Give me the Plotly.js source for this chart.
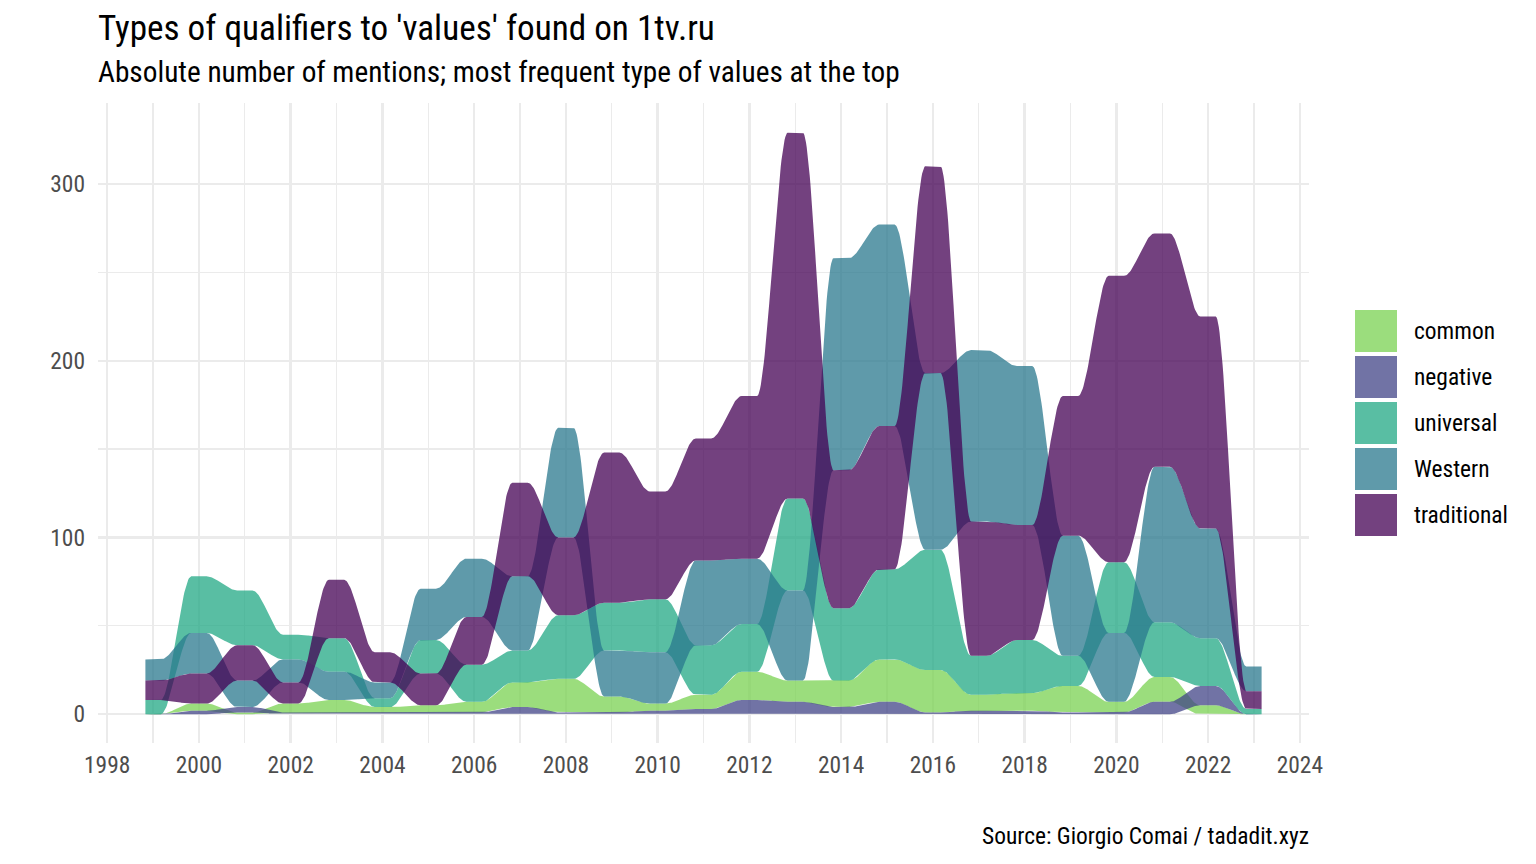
<!DOCTYPE html>
<html>
<head>
<meta charset="utf-8">
<script src="https://cdn.plot.ly/plotly-3.0.1.min.js"></script>
<style>
  html, body { margin: 0; padding: 0; background: #fff; }
  #chart { width: 1536px; height: 864px; }
</style>
</head>
<body>
<div id="chart"></div>
<script>
// years on the x axis
const years = [1999, 2000, 2001, 2002, 2003, 2004, 2005, 2006, 2007, 2008, 2009, 2010,
  2011, 2012, 2013, 2014, 2015, 2016, 2017, 2018, 2019, 2020, 2021, 2022, 2023];
// number of mentions of each type per year
const common = [0, 4, 1, 5, 7, 3, 4, 6, 14, 19, 9, 4, 8, 16, 12, 15, 24, 24, 9, 10, 15, 6, 14, 5, 0];
const negative = [0, 2, 3, 1, 1, 1, 1, 1, 4, 1, 1, 2, 3, 8, 7, 4, 7, 1, 2, 2, 1, 1, 7, 11, 0];
const universal = [8, 32, 31, 14, 19, 5, 19, 21, 18, 36, 27, 30, 28, 27, 52, 41, 51, 68, 22, 30, 17, 40, 31, 27, 3];
const western = [12, 23, 15, 13, 16, 9, 29, 33, 42, 62, 26, 29, 48, 37, 51, 120, 114, 100, 97, 90, 68, 39, 88, 62, 14];
const traditional = [11, 17, 20, 12, 33, 17, 18, 27, 53, 44, 85, 61, 69, 92, 207, 78, 81, 117, 76, 65, 79, 162, 132, 120, 10];
// legend labels, in drawing order
const typeNames = ['common', 'negative', 'universal', 'Western', 'traditional'];

const FONT = "'Roboto Condensed', 'Liberation Sans Narrow', Roboto, sans-serif";
const BASE = 29.3; // base font size, like ggplot base_size
// viridis colours with alpha 0.75
const colors = [
  'rgba(122, 209, 81, 0.75)',
  'rgba(65, 68, 135, 0.75)',
  'rgba(34, 168, 132, 0.75)',
  'rgba(42, 120, 142, 0.75)',
  'rgba(68, 1, 84, 0.75)',
];
const seriesValues = [common, negative, universal, western, traditional];

const halfWidth = 1 / 6; // half width of the flat part at each year
const steps = 40; // points per transition

// for each year stack the types, smallest at the bottom
function stackByYear() {
  const bounds = seriesValues.map(() => ({ lower: [], upper: [] }));
  years.forEach((year, i) => {
    const order = seriesValues
      .map((v, k) => k)
      .sort((a, b) => seriesValues[a][i] - seriesValues[b][i]);
    let base = 0;
    order.forEach((k) => {
      bounds[k].lower[i] = base;
      base += seriesValues[k][i];
      bounds[k].upper[i] = base;
    });
  });
  return bounds;
}

// outline of one ribbon: flat at each year, s-curve in between
function ribbon(lower, upper) {
  const x = [];
  const yUp = [];
  const yLow = [];
  years.forEach((year, i) => {
    x.push(year - halfWidth, year + halfWidth);
    yUp.push(upper[i], upper[i]);
    yLow.push(lower[i], lower[i]);
    if (i === years.length - 1) return;
    const x0 = year + halfWidth;
    const x1 = years[i + 1] - halfWidth;
    for (let s = 1; s < steps; s++) {
      const t = s / steps;
      const k = t * t * (3 - 2 * t);
      x.push(x0 + (x1 - x0) * t);
      yUp.push(upper[i] + (upper[i + 1] - upper[i]) * k);
      yLow.push(lower[i] + (lower[i + 1] - lower[i]) * k);
    }
  });
  return {
    x: x.concat(x.slice().reverse()),
    y: yUp.concat(yLow.slice().reverse()),
  };
}

const bounds = stackByYear();
const data = typeNames.map((name, k) => {
  const r = ribbon(bounds[k].lower, bounds[k].upper);
  return {
    type: 'scatter',
    mode: 'lines',
    name: name,
    x: r.x,
    y: r.y,
    fill: 'toself',
    fillcolor: colors[k],
    line: { width: 0, color: 'rgba(0,0,0,0)' },
    hoverinfo: 'skip',
    showlegend: false,
  };
});

// legend drawn by hand, big squares like ggplot
const plotLeft = 98;
const plotRight = 1309;
const plotTop = 103;
const plotBottom = 743;
const px = (p) => (p - plotLeft) / (plotRight - plotLeft);
const py = (p) => (plotBottom - p) / (plotBottom - plotTop);
const shapes = [];
const annotations = [];
typeNames.forEach((name, k) => {
  const top = 310 + 46 * k;
  shapes.push({
    type: 'rect',
    xref: 'paper',
    yref: 'paper',
    x0: px(1355),
    x1: px(1397),
    y0: py(top + 42),
    y1: py(top),
    fillcolor: colors[k],
    line: { width: 0 },
  });
  annotations.push({
    xref: 'paper',
    yref: 'paper',
    x: px(1412),
    y: py(top + 21),
    xanchor: 'left',
    yanchor: 'middle',
    text: name,
    showarrow: false,
    font: { size: BASE * 0.8, color: '#000' },
  });
});
// subtitle and source
annotations.push({
  xref: 'paper',
  yref: 'paper',
  x: 0,
  xshift: -2,
  y: py(72),
  xanchor: 'left',
  yanchor: 'middle',
  text: 'Absolute number of mentions; most frequent type of values at the top',
  showarrow: false,
  font: { size: BASE, color: '#000' },
});
annotations.push({
  xref: 'paper',
  yref: 'paper',
  x: 1,
  xshift: 2,
  y: py(836),
  xanchor: 'right',
  yanchor: 'middle',
  text: 'Source: Giorgio Comai / tadadit.xyz',
  showarrow: false,
  font: { size: BASE * 0.8, color: '#000' },
});

const layout = {
  width: 1536,
  height: 864,
  margin: { l: plotLeft, r: 1536 - plotRight, t: plotTop, b: 864 - plotBottom, pad: 0 },
  paper_bgcolor: '#fff',
  plot_bgcolor: '#fff',
  font: { family: FONT, size: BASE * 0.8, color: '#4d4d4d' },
  title: {
    text: "Types of qualifiers to 'values' found on 1tv.ru",
    font: { size: BASE * 1.2, color: '#000' },
    xref: 'container',
    yref: 'container',
    x: 98 / 1536,
    xanchor: 'left',
    y: 1 - 28 / 864,
    yanchor: 'middle',
  },
  xaxis: {
    range: [1997.8, 2024.2],
    tick0: 1998,
    dtick: 2,
    showgrid: true,
    gridcolor: '#ebebeb',
    gridwidth: 2.4,
    zeroline: false,
    showline: false,
    ticks: '',
    ticklabelstandoff: 6,
    tickfont: { size: BASE * 0.8, color: '#4d4d4d' },
    minor: { tick0: 1998, dtick: 1, showgrid: true, gridcolor: '#ebebeb', gridwidth: 1.3 },
  },
  yaxis: {
    range: [-16.3, 345.8],
    tick0: 0,
    dtick: 100,
    showgrid: true,
    gridcolor: '#ebebeb',
    gridwidth: 2.4,
    zeroline: false,
    showline: false,
    ticks: '',
    ticklabelstandoff: 12,
    tickfont: { size: BASE * 0.8, color: '#4d4d4d' },
    minor: { tick0: 0, dtick: 50, showgrid: true, gridcolor: '#ebebeb', gridwidth: 1.3 },
  },
  showlegend: false,
  shapes: shapes,
  annotations: annotations,
};

Plotly.newPlot('chart', data, layout, { staticPlot: true });
</script>
</body>
</html>
